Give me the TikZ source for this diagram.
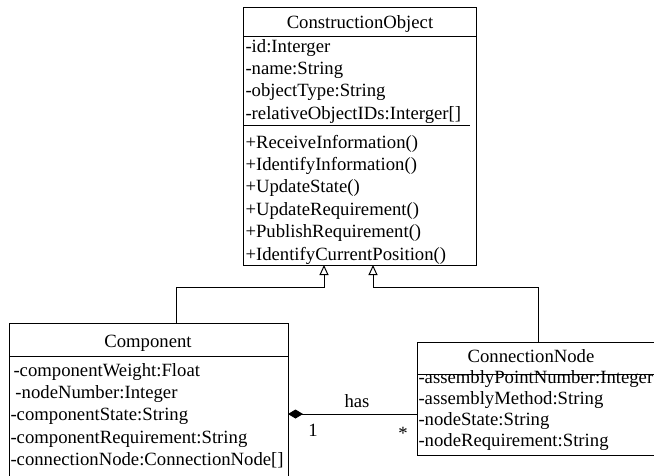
\documentclass[tikz,border=0pt]{standalone}
\usepackage{fontspec}
\setmainfont{Liberation Serif}
\usetikzlibrary{arrows.meta}

\begin{document}
\begin{tikzpicture}[x=1pt,y=-1pt,line width=1pt,
    font=\fontsize{18.7}{22.4}\selectfont,
    box/.style={draw,anchor=north west,inner sep=0pt,outer sep=0pt},
    attr/.style={anchor=base west,inner sep=0pt},
    head/.style={anchor=base,inner sep=0pt},
    gen/.style={-{Triangle[open,length=10pt,width=9pt]}},
    lbl/.style={inner sep=0pt}]
  \useasboundingbox (0,0) rectangle (654,475);
  \clip (0,0) rectangle (654,475);
  % class boxes
  \node[box,minimum width=233pt,minimum height=258pt] (obj) at (243,7) {};
  \node[box,minimum width=279pt,minimum height=170pt] (comp) at (9,323) {};
  \node[box,minimum width=250pt,minimum height=113pt] (conn) at (417,342) {};
  \draw (obj.west |- 0,36) -- (obj.east |- 0,36);
  \draw (obj.west |- 0,125) -- (470,125);
  \draw (comp.west |- 0,356) -- (comp.east |- 0,356);
  \draw (conn.west |- 0,374) -- (conn.east |- 0,374);
  % ConstructionObject
  \node[head] (objT) at (360,28) {ConstructionObject};
  \foreach \txt [count=\i] in {{-id:Interger},{-name:String},{-objectType:String},{-relativeObjectIDs:Interger[]}}
    \node[attr] (oa\i) at (245,{52+22.4*(\i-1)}) {\txt};
  \foreach \txt [count=\i] in {{+ReceiveInformation()},{+IdentifyInformation()},{+UpdateState()},{+UpdateRequirement()},{+PublishRequirement()},{+IdentifyCurrentPosition()}}
    \node[attr] (om\i) at (245,{148+22.4*(\i-1)}) {\txt};
  % Component
  \node[head] (compT) at (148,347) {Component};
  \foreach \dx/\txt [count=\i] in {13/{-componentWeight:Float},15/{-nodeNumber:Integer},10/{-componentState:String},10/{-componentRequirement:String},10/{-connectionNode:ConnectionNode[]}}
    \node[attr] (ca\i) at (\dx,{376+22.4*(\i-1)}) {\txt};
  % ConnectionNode
  \node[head] (connT) at (531,362) {ConnectionNode};
  \foreach \txt [count=\i] in {{-assemblyPointNumber:Integer},{-assemblyMethod:String},{-nodeState:String},{-nodeRequirement:String}}
    \node[attr] (na\i) at (418,{383+21.3*(\i-1)}) {\txt};
  % generalisation
  \coordinate (b1) at (176,287);
  \coordinate (b2) at (538,287);
  \draw[gen] (b1 |- comp.north) -- (b1) -| (324,0 |- obj.south);
  \draw[gen] (b2 |- conn.north) -- (b2) -| (373,0 |- obj.south);
  % composition
  \coordinate (c) at (352,414);
  \draw[{Diamond[length=15pt,width=9pt]}-] (comp.east |- c) -- (conn.west |- c);
  \node[lbl] (has) at (357,401) {has};
  \node[lbl] (m1) at (313,430) {1};
  \node[lbl] (mn) at (403,433) {*};
\end{tikzpicture}
\end{document}
